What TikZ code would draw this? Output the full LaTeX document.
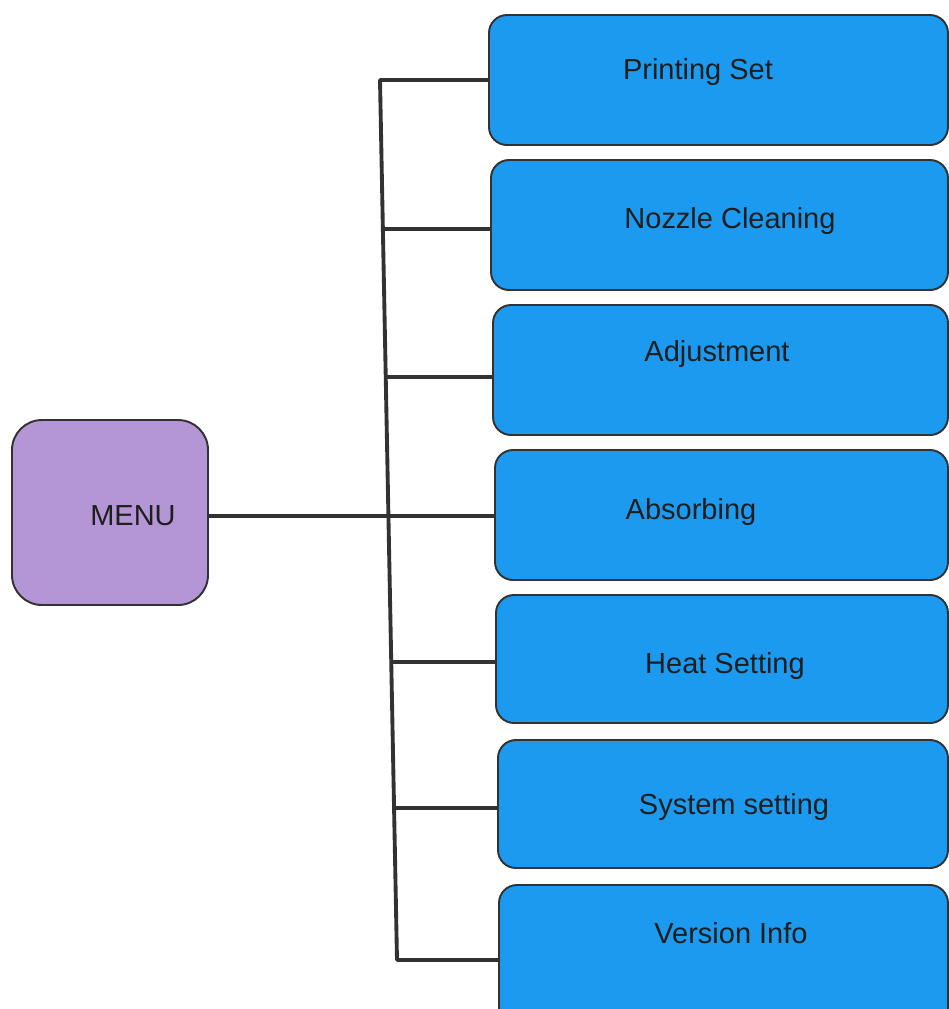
\documentclass[tikz,border=0pt]{standalone}
\usepackage{fontspec}
\setmainfont{Liberation Sans}
\usetikzlibrary{fit}
\definecolor{itemblue}{RGB}{28,154,240}
\definecolor{menupurple}{RGB}{180,150,214}
\definecolor{linegray}{RGB}{50,50,50}
\definecolor{textgray}{RGB}{30,30,30}
\tikzset{
  itembox/.style={draw=linegray, line width=1.1pt, fill=itemblue, rounded corners=0.36cm, inner sep=0pt},
  menubox/.style={draw=linegray, line width=1.1pt, fill=menupurple, rounded corners=0.6cm, inner sep=0pt},
  itemtext/.style={text=textgray, font=\fontsize{16.5}{20}\selectfont, inner sep=0pt, anchor=base},
  wire/.style={draw=linegray, line width=2.2pt}
}
\begin{document}
\begin{tikzpicture}[x=0.02cm, y=-0.02cm]
\useasboundingbox (0,0) rectangle (949,1009);
\clip (0,0) rectangle (949,1009);

% menu entry boxes
\node[itembox, fit={(489,15) (948,145)}] (b1) {};
\node[itembox, fit={(491,160) (948,290)}] (b2) {};
\node[itembox, fit={(493,305) (948,435)}] (b3) {};
\node[itembox, fit={(495,450) (948,580)}] (b4) {};
\node[itembox, fit={(496,595) (948,723)}] (b5) {};
\node[itembox, fit={(498,740) (948,868)}] (b6) {};
\node[itembox, fit={(499,885) (948,1040)}] (b7) {};

% labels, placed by baseline
\node[itemtext] (t1) at (698,79) {Printing Set};
\node[itemtext] (t2) at (730,228) {Nozzle Cleaning};
\node[itemtext] (t3) at (717,361) {Adjustment};
\node[itemtext] (t4) at (691,519) {Absorbing};
\node[itemtext] (t5) at (725,673) {Heat Setting};
\node[itemtext] (t6) at (734,814) {System setting};
\node[itemtext] (t7) at (731,943) {Version Info};

% root box
\node[menubox, fit={(12,420) (208,605)}] (menu) {};
\node[itemtext] (tm) at (133,525) {MENU};

% trunk junctions
\coordinate (j1) at (380,80);
\coordinate (j2) at (383,229);
\coordinate (j3) at (386,377);
\coordinate (j4) at (388.5,516);
\coordinate (j5) at (391,662);
\coordinate (j6) at (394,808);
\coordinate (j7) at (397,960);

\draw[wire, line cap=round] (j1) -- (j7);
\draw[wire] (menu.east |- j4) -- (j4 -| b4.west);
\draw[wire] (j1) -- (j1 -| b1.west);
\draw[wire] (j2) -- (j2 -| b2.west);
\draw[wire] (j3) -- (j3 -| b3.west);
\draw[wire] (j5) -- (j5 -| b5.west);
\draw[wire] (j6) -- (j6 -| b6.west);
\draw[wire] (j7) -- (j7 -| b7.west);
\end{tikzpicture}
\end{document}
